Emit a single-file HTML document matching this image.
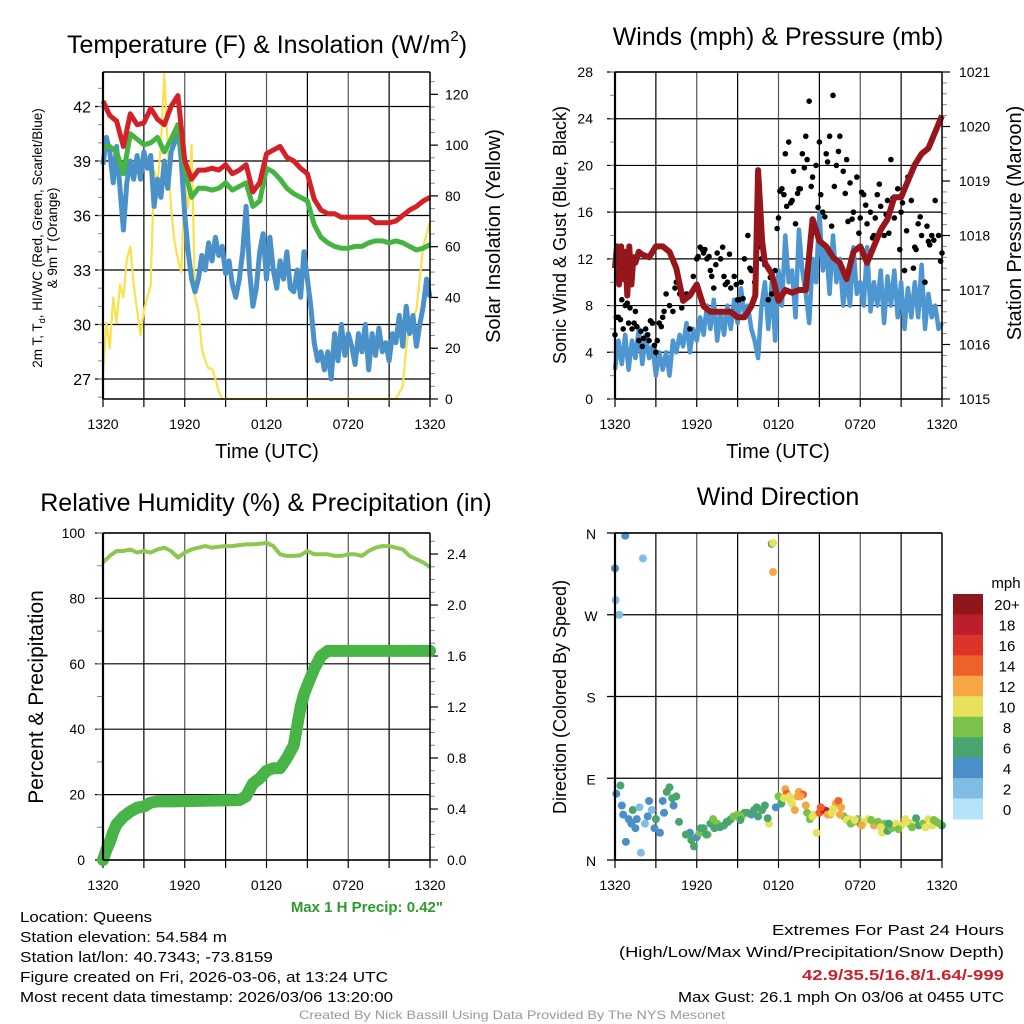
<!DOCTYPE html>
<html><head><meta charset="utf-8"><style>
html,body{margin:0;padding:0;background:#fff;}
svg{display:block;font-family:"Liberation Sans",Arial,sans-serif;}
</style></head><body>
<svg id="fig" width="1024" height="1024" viewBox="0 0 1024 1024" xmlns="http://www.w3.org/2000/svg">
<g id="layer"></g>
</svg>
<script>
// ---------- DATA ----------
const xTickLabels = ["1320","1920","0120","0720","1320"];
const tempTicks = [27,30,33,36,39,42];
const solarTicks = [0,20,40,60,80,100,120];
const windTicks = [0,4,8,12,16,20,24,28];
const presTicks = [1015,1016,1017,1018,1019,1020,1021];
const rhTicks = [0,20,40,60,80,100];
const precipTicks = ["0.0","0.4","0.8","1.2","1.6","2.0","2.4"];
const dirTicks = ["N","E","S","W","N"];
const halfHours = [0,0.5,1,1.5,2,2.5,3,3.5,4,4.5,5,5.5,6,6.5,7,7.5,8,8.5,9,9.5,10,10.5,11,11.5,12,12.5,13,13.5,14,14.5,15,15.5,16,16.5,17,17.5,18,18.5,19,19.5,20,20.5,21,21.5,22,22.5,23,23.5,24];
const quarterHours = [0,0.25,0.5,0.75,1,1.25,1.5,1.75,2,2.25,2.5,2.75,3,3.25,3.5,3.75,4,4.25,4.5,4.75,5,5.25,5.5,5.75,6,6.25,6.5,6.75,7,7.25,7.5,7.75,8,8.25,8.5,8.75,9,9.25,9.5,9.75,10,10.25,10.5,10.75,11,11.25,11.5,11.75,12,12.25,12.5,12.75,13,13.25,13.5,13.75,14,14.25,14.5,14.75,15,15.25,15.5,15.75,16,16.25,16.5,16.75,17,17.25,17.5,17.75,18,18.25,18.5,18.75,19,19.25,19.5,19.75,20,20.25,20.5,20.75,21,21.25,21.5,21.75,22,22.25,22.5,22.75,23,23.25,23.5,23.75,24];
const tempRed = [42.3,41.5,41.2,39.8,41.6,41.0,41.1,41.9,41.3,41.0,42.0,42.6,39.0,38.0,38.5,38.5,38.6,38.5,38.8,38.3,38.5,38.8,37.3,37.8,39.4,39.6,39.8,39.2,39.0,38.6,38.3,36.9,36.3,36.1,36.1,35.9,35.9,35.9,35.9,35.9,35.6,35.6,35.6,35.7,36.0,36.3,36.5,36.8,37.0];
const tempGreen = [39.8,39.8,39.5,38.3,40.5,40.2,39.9,40.0,40.3,39.5,40.2,41.0,38.5,37.0,37.5,37.5,37.4,37.5,37.8,37.4,37.6,37.8,36.5,36.8,38.6,38.4,38.0,37.5,37.2,37.0,36.8,35.5,34.8,34.5,34.3,34.2,34.2,34.3,34.3,34.5,34.6,34.6,34.5,34.6,34.5,34.3,34.1,34.2,34.4];
const tempBlue = [38.8,40.3,39.5,37.8,39.8,37.5,35.2,37.8,39.0,38.0,39.3,38.0,39.5,38.6,39.3,36.5,38.0,37.0,39.0,37.5,39.5,40.0,41.0,39.0,36.0,34.0,32.5,31.8,32.5,33.8,33.0,34.5,33.5,34.8,33.8,34.3,32.8,33.5,32.2,31.5,32.5,34.0,36.5,33.0,31.0,32.0,34.0,35.0,32.5,34.8,33.0,32.0,33.5,32.5,34.0,32.0,31.8,33.0,31.5,34.0,32.5,31.0,29.0,28.0,28.5,27.5,28.5,27.0,29.5,28.0,30.0,28.3,29.5,28.8,27.8,29.5,28.5,30.0,27.5,29.5,28.3,29.8,28.5,29.0,28.0,29.5,29.0,30.5,28.8,31.0,29.5,30.5,28.8,30.0,31.0,32.5,31.5];
const solarT = [0,0.25,0.5,0.75,1,1.25,1.5,1.75,2,2.25,2.5,2.75,3,3.25,3.5,3.75,4,4.25,4.5,4.75,5,5.25,5.5,5.75,6,6.25,6.5,6.75,7,7.25,7.5,7.75,8,8.25,8.5,8.75,21.5,22,22.25,22.5,23,23.5,24];
const solarV = [10,30,20,40,30,45,40,55,60,45,35,25,35,40,45,90,85,100,128,100,75,62,55,50,85,75,100,40,35,20,15,12,12,8,3,0,0,5,20,30,35,60,70];
const windBlue = [2.5,5,3,5.5,2.5,5,3.5,6,3,5.5,3.5,4.5,2,4,2.5,4,2,5,4,5.5,4.5,6.5,4,6,5,7,5.5,8,6,8.5,5,7.5,5.5,8,6,8.5,6.5,9.5,7,8,6,5,3.5,8,10,6,10,5,11,8,14,10,11,7,14.5,11,9,6.5,12,10,16,11,13,9,14,10,12,8,10.5,8,13,9,10,8,13,7.5,10,8,11,6.5,10.5,8,11,7,10,6,9.5,7,10,7,11.5,6,9,7,8,6,6.5];
const presT = [0,0.15,0.3,0.45,0.6,0.75,0.9,1.05,1.2,1.35,1.5,1.75,2,2.5,3,3.5,4,4.5,5,5.5,6,6.5,7,7.5,8,8.5,9,9.5,10,10.3,10.5,10.8,11,11.5,12,12.5,13,13.5,14,14.5,15,15.5,16,16.5,17,17.5,18,18.5,19,19.5,20,20.5,21,21.5,22,22.5,23,23.5,24];
const presV = [1017.4,1017.8,1017.1,1017.8,1017.2,1017.7,1016.9,1017.8,1017.1,1017.6,1017.5,1017.7,1017.65,1017.6,1017.8,1017.8,1017.7,1017.4,1016.8,1016.9,1017.1,1016.7,1016.6,1016.6,1016.6,1016.6,1016.5,1016.5,1016.7,1016.9,1019.2,1017.9,1017.5,1017.3,1016.8,1017.0,1016.95,1017.0,1017.0,1018.3,1017.9,1017.8,1017.6,1017.5,1017.2,1017.7,1017.8,1017.5,1017.8,1018.1,1018.3,1018.7,1018.7,1019.0,1019.3,1019.5,1019.6,1019.9,1020.2];
const gustT = [0,0.25,0.5,0.75,1,1.25,1.5,1.75,2,2.25,2.5,2.75,3,3.25,3.5,3.75,4,4.25,4.5,4.75,5,5.25,5.5,5.75,6,6.25,6.5,6.75,7,7.25,7.5,7.75,8,8.25,8.5,8.75,9,9.25,9.5,9.75,10,10.25,10.5,10.75,11,11.25,11.5,11.75,12,12.25,12.5,12.75,13,13.25,13.5,13.75,14,14.25,14.5,14.75,15,15.25,15.5,15.75,16,16.25,16.5,16.75,17,17.25,17.5,17.75,18,18.25,18.5,18.75,19,19.25,19.5,19.75,20,20.25,20.5,20.75,21,21.25,21.5,21.75,22,22.25,22.5,22.75,23,23.25,23.5,23.75,24,0.1,0.6,1.1,1.6,2.1,2.6,3.1,3.6,6.1,6.6,7.1,8.1,9.1,12.1,12.6,13.1,13.6,14.1,15.1,15.6,16.1,17.1,18.1,19.1,20.1,21.1,22.1,23.1,0.4,0.9,1.4,1.9,2.4,2.9,3.4,4.4,4.9,5.4,6.4,6.9,7.4,7.9,8.4,8.9,9.4,9.9,10.9,11.4,11.9,12.4,12.9,13.4,13.9,14.4,14.9,15.4,15.9,16.4,16.9,17.4,17.9,18.4,18.9,19.4,19.9,20.4,20.9,21.4,21.9,22.4,22.9,23.4,23.9];
const gustV = [5.5,7,8.5,8,6.5,6,7.5,5,4.5,6,5,6.5,4,6.5,7,9,8,7.5,10,9,8.5,9,6,10.5,12,13,12.5,12,11,9.5,12.5,12,10.5,10,9.5,10.5,8.5,10,12,14,11,10,13,12,11.5,8.5,9,11,15.5,18,21,22,17,15,18,21,22.5,25.5,19,20,22,16,21,22.5,26,20,22.5,19.5,20.5,18.5,16,19,15.5,17.5,15,16,14,17.5,16.5,14,17,20.5,15.5,18,16,11,19,17,13,15,14,10,13.5,14,17,14,12.5,7,6,7.8,6.2,5.2,6.7,5,7.5,12.2,12.8,10.5,9.8,8.5,17.8,16.5,19.5,18,20.5,17.5,20.3,18.2,15.2,17.7,15.5,14.2,16.8,12.8,13.2,6.8,8.2,6.5,5.8,5.5,4.6,6.2,9.5,7.8,8.8,12.8,12.2,11.5,13,12.4,9.8,8.6,11.2,12.5,10.4,14.6,17.5,16.8,17.6,19.8,18.2,16.4,15.6,14.8,21.2,17.6,15.4,14.2,16.6,13.8,18.4,15.8,17.2,12.8,14.4,11.2,15.6,14.8,13.6,11.8];
const rhV = [91,93,94.5,94.5,95,94,94.5,94,95,95.5,94.5,92.5,94,95,95.5,96,95.5,95.8,96,96,96.3,96.5,96.5,96.7,97,96,93.5,93,93,93.2,94.5,93.5,93.5,93.5,93,93,93.5,93.5,93,94.5,95.5,96,96,95.5,95,93,92,91,89.5];
const precipT = [0,0.25,0.5,0.75,1,1.5,2,2.5,3,3.5,4,5,10,10.5,11,11.5,12,12.5,13,13.5,14,14.25,14.5,14.75,15,15.5,16,16.5,24];
const precipV = [0,0.08,0.14,0.22,0.28,0.34,0.38,0.41,0.42,0.45,0.46,0.46,0.47,0.50,0.60,0.64,0.70,0.72,0.72,0.80,0.90,1.05,1.20,1.30,1.37,1.50,1.60,1.64,1.64];
const dirT = [0,0.05,0.3,0.75,2.05,0.1,0.4,0.5,1.0,1.3,1.6,0.8,1.5,1.9,2.2,2.5,2.7,3.0,3.3,3.5,4.0,4.5,4.3,5.5,6.0,5.8,6.2,6.5,7.0,7.5,8.0,8.5,9.0,9.5,10,10.5,11,11.3,11.5,11.6,11.6,11.8,12,12.2,12.5,12.6,12.8,13,13.2,13.5,13.8,14,14.3,14.6,14.8,15,15.3,15.5,15.8,16.2,16.4,16.6,16.8,17.2,17.5,17.8,18,18.3,18.6,19,19.3,19.6,20,20.3,20.6,21,21.3,21.6,22,22.3,22.6,23,23.3,23.6,24,3.8,4.2,6.8,7.3,8.3,9.3,10.2,12.4,13.4,16.0,17.0,19.8,21.8,23.8,0.6,1.2,1.8,2.4,2.9,3.6,4.7,5.2,5.6,6.3,6.7,7.2,7.7,8.2,8.7,9.2,9.7,10.4,10.8,11.2,12.9,13.6,14.1,14.5,15.1,15.6,15.9,16.5,17.3,17.6,18.1,18.8,19.5,20.1,20.8,21.4,22.1,22.8,23.4];
const dirV = [321,286,270,357,332,73,82,60,45,55,45,20,35,8,40,65,55,45,30,65,80,70,60,30,25,15,30,35,40,40,38,45,50,52,50,48,60,40,348,349,317,58,70,62,78,73,70,62,55,75,72,60,45,50,30,52,55,54,50,62,65,58,48,45,42,45,40,42,45,38,42,30,32,35,40,38,45,40,42,38,40,45,38,42,38,75,68,28,35,42,48,55,68,70,56,44,40,36,40,50,40,58,48,35,52,42,28,22,35,28,45,36,42,48,44,52,58,55,46,65,70,52,48,58,50,52,50,40,44,38,44,36,40,34,42,46,36,44];
const dirS = [4,3,2,4,2,4,7,4,5,6,4,4,4,2,3,4,3,6,4,4,7,6,4,4,5,6,8,6,6,8,7,6,8,7,4,6,6,10,6,10,12,4,8,6,12,15,10,10,12,12,14,12,8,10,10,14,16,18,12,12,14,12,8,10,12,8,6,10,10,12,8,10,6,8,10,10,10,8,10,6,8,10,10,8,6,6,6,8,7,6,8,6,10,12,10,10,8,8,8,4,4,3,5,4,4,7,6,6,7,6,8,6,7,8,6,7,7,6,7,11,12,8,10,15,12,11,12,8,10,12,8,10,7,8,10,6,10,8];
const cbarLabels = ["20+","18","16","14","12","10","8","6","4","2","0"];
const cbarColors = ["#8f161b","#bd1e2c","#dc3429","#ef612b","#f6a744","#e7e15b","#7bc24a","#48a56f","#4a8fc7","#7fbde5","#b6e3f8"];

// ---------- HELPERS ----------
const NS="http://www.w3.org/2000/svg";
const root=document.getElementById('layer');
function mk(tag,attrs,parent){const e=document.createElementNS(NS,tag);for(const k in attrs)e.setAttribute(k,attrs[k]);(parent||root).appendChild(e);return e;}
function txt(s,x,y,size,anchor,parent,extra){const e=mk('text',Object.assign({x:x,y:y,'font-size':size,'text-anchor':anchor||'middle',fill:'#000'},extra||{}),parent);e.textContent=s;return e;}
function lin(d0,d1,p0,p1){return v=>p0+(v-d0)*(p1-p0)/(d1-d0);}
function pathFrom(xs,ys,fx,fy){return xs.map((t,i)=>(i?'L':'M')+fx(t).toFixed(1)+','+fy(ys[i]).toFixed(1)).join('');}
function speedColor(s){let idx=10-Math.floor(s/2);if(idx<0)idx=0;if(idx>10)idx=10;return cbarColors[idx];}

function frame(P,g){
  for(let h=3;h<24;h+=3){const x=P.fx(h);const e=mk('line',{x1:x,y1:P.t,x2:x,y2:P.b,stroke:(h%6===0)?'#555':'#000','stroke-width':1.2},g);}
  for(let h=0;h<=24;h+=3){const x=P.fx(h);mk('line',{x1:x,y1:P.b,x2:x,y2:P.b+8,stroke:'#000','stroke-width':1.2},g);}
  xTickLabels.forEach((s,i)=>{const e=txt(s,P.fx(i*6),P.b+30,14,'middle',g);});
}
function box(P,g){
  mk('line',{x1:P.l,y1:P.t,x2:P.l,y2:P.b,stroke:'#000','stroke-width':2.2},g);
  mk('line',{x1:P.r,y1:P.t,x2:P.r,y2:P.b,stroke:'#000','stroke-width':1.5},g);
  mk('line',{x1:P.l,y1:P.t,x2:P.r,y2:P.t,stroke:'#000','stroke-width':1.5},g);
  mk('line',{x1:P.l,y1:P.b,x2:P.r,y2:P.b,stroke:'#000','stroke-width':1.5},g);
}
function hgrid(P,g,ys,fy){ys.forEach(v=>{const y=fy(v);const e=mk('line',{x1:P.l-8,y1:y,x2:P.r,y2:y,stroke:'#000','stroke-width':1.2},g);});}
function minorL(P,g,lo,hi,step,fy,len){for(let v=lo;v<=hi+1e-9;v+=step){const y=fy(v);if(y<P.t-0.5||y>P.b+0.5)continue;mk('line',{x1:P.l-len,y1:y,x2:P.l,y2:y,stroke:'#888','stroke-width':1},g);}}
function minorR(P,g,lo,hi,step,fy,len){for(let v=lo;v<=hi+1e-9;v+=step){const y=fy(v);if(y<P.t-0.5||y>P.b+0.5)continue;mk('line',{x1:P.r,y1:y,x2:P.r+len,y2:y,stroke:'#888','stroke-width':1},g);}}

// ---------- PANEL 1 ----------
(function(){
 const g=mk('g',{});
 const P={l:103,r:430,t:72,b:399};P.fx=lin(0,24,P.l,P.r);
 const fy=lin(25.9,43.9,P.b,P.t), fs=lin(0,128.8,P.b,P.t);
 frame(P,g);hgrid(P,g,tempTicks,fy);
 minorL(P,g,26,43,1,fy,5);
 minorR(P,g,0,125,5,fs,5);
 solarTicks.forEach(v=>{mk('line',{x1:P.r,y1:fs(v),x2:P.r+8,y2:fs(v),stroke:'#000','stroke-width':1.2},g);const e=txt(String(v),P.r+15,fs(v)+5,14,'start',g);});
 tempTicks.forEach(v=>{const e=txt(String(v),P.l-12,fy(v)+6,16,'end',g);});
 let e;
 e=mk('path',{d:pathFrom(solarT,solarV,P.fx,fs),fill:'none',stroke:'#f9e24c','stroke-width':2.2,'stroke-linejoin':'round'},g);
 e=mk('path',{d:pathFrom(quarterHours,tempBlue,P.fx,fy),fill:'none',stroke:'#4a90c9','stroke-width':5,'stroke-linejoin':'round'},g);
 e=mk('path',{d:pathFrom(halfHours,tempGreen,P.fx,fy),fill:'none',stroke:'#45b443','stroke-width':5,'stroke-linejoin':'round'},g);
 e=mk('path',{d:pathFrom(halfHours,tempRed,P.fx,fy),fill:'none',stroke:'#d42027','stroke-width':5,'stroke-linejoin':'round'},g);
 box(P,g);
 const tt=mk('text',{x:267,y:53,'font-size':25,'text-anchor':'middle',fill:'#000'},g);
 
 tt.innerHTML='Temperature (F) &amp; Insolation (W/m<tspan font-size="15" dy="-12">2</tspan><tspan dy="12">)</tspan>';
 e=txt('Time (UTC)',267,458,20,'middle',g);
 e=txt('Solar Insolation (Yellow)',0,0,20,'middle',g,{transform:'translate(500,236) rotate(-90)'});
 const yl=mk('text',{transform:'translate(42,238) rotate(-90)','font-size':13.5,'text-anchor':'middle',fill:'#000'},g);
 
 yl.innerHTML='2m T, T<tspan font-size="9" dy="3">d</tspan><tspan dy="-3">, HI/WC (Red, Green, Scarlet/Blue)</tspan>';
 e=txt('& 9m T (Orange)',0,0,13.5,'middle',g,{transform:'translate(57,238) rotate(-90)'});
})();

// ---------- PANEL 2 ----------
(function(){
 const g=mk('g',{});
 const P={l:615,r:942,t:72,b:399};P.fx=lin(0,24,P.l,P.r);
 const fy=lin(0,28,P.b,P.t), fp=lin(1015,1021,P.b,P.t);
 frame(P,g);hgrid(P,g,windTicks,fy);
 minorL(P,g,0,28,2,fy,5);
 minorR(P,g,1015,1021,0.2,fp,5);
 presTicks.forEach(v=>{mk('line',{x1:P.r,y1:fp(v),x2:P.r+8,y2:fp(v),stroke:'#000','stroke-width':1.2},g);const e=txt(String(v),P.r+17,fp(v)+5,14,'start',g);});
 windTicks.forEach(v=>{const e=txt(String(v),P.l-22,fy(v)+5,14,'end',g);});
 let e;
 e=mk('path',{d:pathFrom(quarterHours,windBlue,P.fx,fy),fill:'none',stroke:'#4d96d2','stroke-width':4.5,'stroke-linejoin':'round'},g);
 const gg=mk('g',{},g);
 gustT.forEach((t,i)=>{const c=mk('circle',{cx:P.fx(t),cy:fy(gustV[i]),r:2.8,fill:'#000'},gg);});
 e=mk('path',{d:pathFrom(presT,presV,P.fx,fp),fill:'none',stroke:'#97161b','stroke-width':6,'stroke-linejoin':'round'},g);
 box(P,g);
 e=txt('Winds (mph) & Pressure (mb)',778,45,25,'middle',g);
 e=txt('Time (UTC)',778,458,20,'middle',g);
 e=txt('Sonic Wind & Gust (Blue, Black)',0,0,18,'middle',g,{transform:'translate(566,235) rotate(-90)'});
 e=txt('Station Pressure (Maroon)',0,0,20,'middle',g,{transform:'translate(1021,223) rotate(-90)'});
})();

// ---------- PANEL 3 ----------
(function(){
 const g=mk('g',{});
 const P={l:103,r:430,t:533,b:860};P.fx=lin(0,24,P.l,P.r);
 const fy=lin(0,100,P.b,P.t), fp=lin(0,2.565,P.b,P.t);
 frame(P,g);hgrid(P,g,rhTicks,fy);
 minorL(P,g,0,100,10,fy,6);
 minorR(P,g,0,2.5,0.1,fp,5);
 precipTicks.forEach(s=>{const v=parseFloat(s);mk('line',{x1:P.r,y1:fp(v),x2:P.r+8,y2:fp(v),stroke:'#000','stroke-width':1.2},g);const e=txt(s,P.r+17,fp(v)+5,14,'start',g);});
 rhTicks.forEach(v=>{const e=txt(String(v),P.l-18,fy(v)+5,14,'end',g);});
 let e;
 e=mk('path',{d:pathFrom(halfHours,rhV,P.fx,fy),fill:'none',stroke:'#8cc850','stroke-width':4,'stroke-linejoin':'round'},g);
 e=mk('path',{d:pathFrom(precipT,precipV,P.fx,fp),fill:'none',stroke:'#48b448','stroke-width':12,'stroke-linejoin':'round','stroke-linecap':'round'},g);
 box(P,g);
 e=txt('Relative Humidity (%) & Precipitation (in)',266,511,25,'middle',g);
 e=txt('Percent & Precipitation',0,0,21,'middle',g,{transform:'translate(43,697) rotate(-90)'});
 e=txt('Max 1 H Precip: 0.42"',443,912,15,'end',g,{fill:'#2e9a2e','font-weight':'bold'});
})();

// ---------- PANEL 4 ----------
(function(){
 const g=mk('g',{});
 const P={l:615,r:942,t:533,b:860};P.fx=lin(0,24,P.l,P.r);
 const fy=lin(0,360,P.b,P.t);
 frame(P,g);hgrid(P,g,[0,90,180,270,360],fy);
 dirTicks.forEach((s,i)=>{const e=txt(s,P.l-24,fy(i*90)+6,14,'middle',g);});
 const pg=mk('g',{},g);
 dirT.forEach((t,i)=>{const c=mk('circle',{cx:P.fx(t),cy:fy(dirV[i]),r:4,fill:speedColor(dirS[i])},pg);});
 box(P,g);
 let e=txt('Wind Direction',778,505,25,'middle',g);
 e=txt('Direction (Colored By Speed)',0,0,18,'middle',g,{transform:'translate(566,697) rotate(-90)'});
 const cb=mk('g',{},g);
 const h=(819-594)/cbarColors.length;
 cbarColors.forEach((c,i)=>{mk('rect',{x:953,y:594+i*h,width:30,height:h+0.5,fill:c},cb);});
 cbarLabels.forEach((s,i)=>{const e=txt(s,1007,594+i*h+h/2+6,15,'middle',cb);});
 txt('mph',1006,588,15,'middle',cb);
})();

// ---------- FOOTER ----------
(function(){
 const g=mk('g',{});
 const L=[['Location: Queens',922,132],['Station elevation: 54.584 m',942,207],['Station lat/lon: 40.7343; -73.8159',962,253],['Figure created on Fri, 2026-03-06, at 13:24 UTC',982,368],['Most recent data timestamp: 2026/03/06 13:20:00',1002,373]];
 L.forEach(a=>{txt(a[0],20,a[1],15,'start',g,{textLength:a[2],lengthAdjust:'spacingAndGlyphs'});});
 const r=mk('g',{});
 txt('Extremes For Past 24 Hours',1004,935,15,'end',r,{textLength:232,lengthAdjust:'spacingAndGlyphs'});
 txt('(High/Low/Max Wind/Precipitation/Snow Depth)',1004,957,15,'end',r,{textLength:385,lengthAdjust:'spacingAndGlyphs'});
 txt('42.9/35.5/16.8/1.64/-999',1004,980,15,'end',r,{fill:'#c8212b','font-weight':'bold',textLength:202,lengthAdjust:'spacingAndGlyphs'});
 txt('Max Gust: 26.1 mph On 03/06 at 0455 UTC',1004,1002,15,'end',r,{textLength:326,lengthAdjust:'spacingAndGlyphs'});
 const c=txt('Created By Nick Bassill Using Data Provided By The NYS Mesonet',512,1019,12,'middle',null,{fill:'#999',textLength:426,lengthAdjust:'spacingAndGlyphs'});
 
})();
</script>
</body></html>
